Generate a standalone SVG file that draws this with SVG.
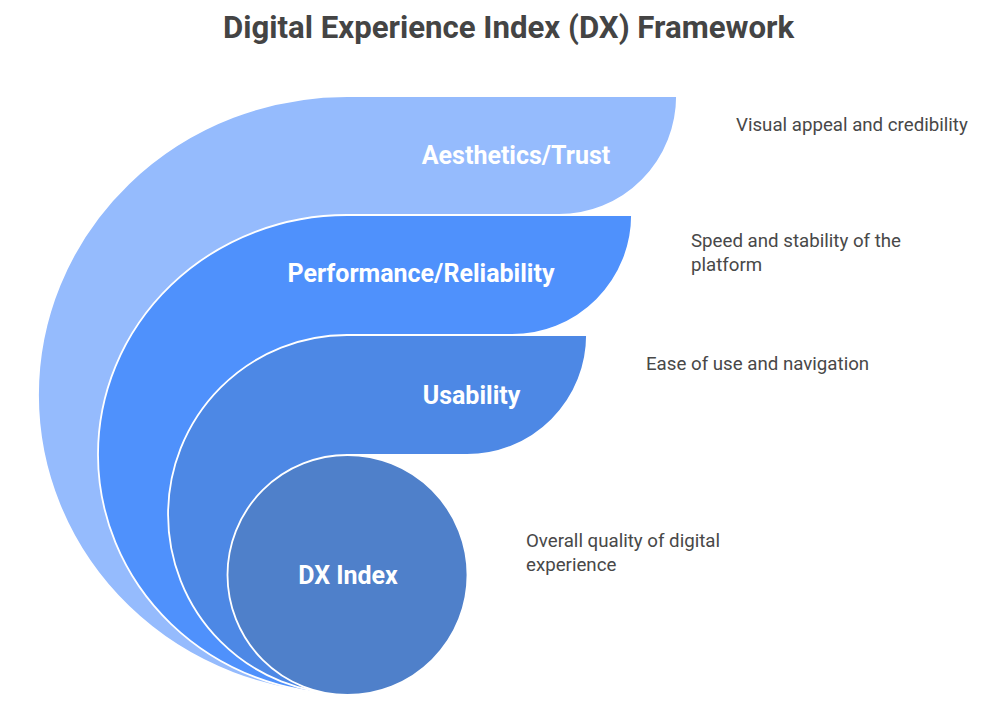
<svg xmlns="http://www.w3.org/2000/svg" width="986" height="715" viewBox="0 0 986 715">
  <style>
    .layer { stroke: #ffffff; stroke-width: 1.8; }
    .lbl { font-family: Roboto, "Liberation Sans", sans-serif; font-weight: 700; font-size: 25px; fill: #ffffff; text-anchor: middle; }
    .desc { font-family: Roboto, "Liberation Sans", sans-serif; font-size: 18.7px; fill: #484848; }
    .title { font-family: Roboto, "Liberation Sans", sans-serif; font-weight: 700; font-size: 31.2px; fill: #444444; text-anchor: middle; }
  </style>
  <rect width="986" height="715" fill="#ffffff"/>
  <text class="title" x="508.5" y="38">Digital Experience Index (DX) Framework</text>

  <g id="aesthetics">
    <path class="layer" fill="#95BBFD" d="M347,694 A309,299 0 0 1 347,96 H677 A118,119 0 0 1 559,215 H347 Z"/>
    <text class="lbl" x="516" y="164">Aesthetics/Trust</text>
  </g>
  <g id="performance">
    <path class="layer" fill="#4F91FC" d="M347,694 A249,239.5 0 0 1 347,215 H632 A120,120 0 0 1 512,335 H347 Z"/>
    <text class="lbl" x="421" y="282">Performance/Reliability</text>
  </g>
  <g id="usability">
    <path class="layer" fill="#4D88E5" d="M347,694 A179,179.5 0 0 1 347,335 H587 A120,120 0 0 1 467,455 H347 Z"/>
    <text class="lbl" x="471.5" y="404">Usability</text>
  </g>
  <g id="dx-index">
    <circle class="layer" fill="#4F80CA" cx="347.5" cy="575" r="120"/>
    <text class="lbl" x="348" y="584">DX Index</text>
  </g>

  <g id="descriptions">
    <text class="desc" x="736" y="131">Visual appeal and credibility</text>
    <text class="desc" x="691" y="247">Speed and stability of the</text>
    <text class="desc" x="691" y="271">platform</text>
    <text class="desc" x="646" y="370">Ease of use and navigation</text>
    <text class="desc" x="526" y="547">Overall quality of digital</text>
    <text class="desc" x="526" y="571">experience</text>
  </g>
  <g id="connectors"></g>
</svg>
